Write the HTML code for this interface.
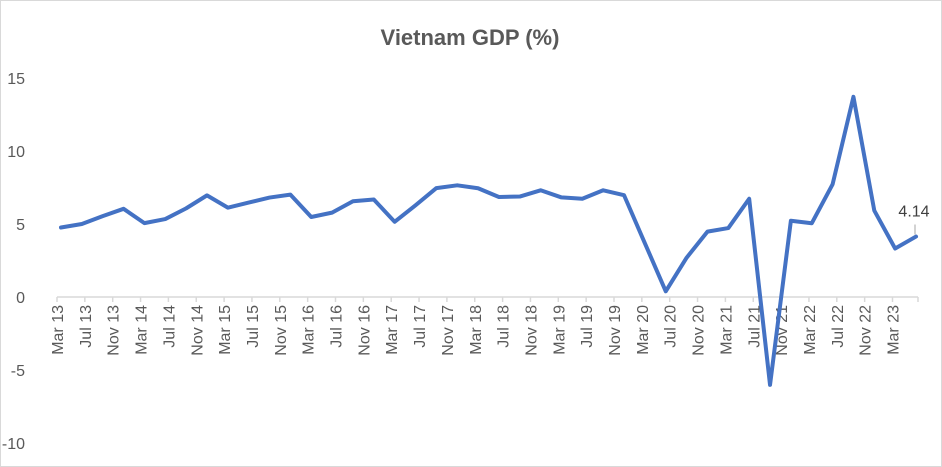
<!DOCTYPE html>
<html><head><meta charset="utf-8"><style>
body{margin:0;background:#fff}
svg{display:block;font-family:"Liberation Sans",sans-serif}
</style></head><body>
<svg id="chart" width="942" height="467">
<rect x="0.5" y="0.5" width="941" height="466" fill="#fff" stroke="#d9d9d9"/>
<text x="470" y="45" text-anchor="middle" font-size="22" font-weight="bold" fill="#595959">Vietnam GDP (%)</text>
<g id="yaxis"></g>
<g id="xaxis"></g>
<g id="series"></g>
</svg>
<script>
const gdpValues=[4.76,5.00,5.54,6.04,5.06,5.34,6.07,6.96,6.12,6.47,6.81,7.01,5.48,5.78,6.56,6.68,5.15,6.28,7.46,7.65,7.45,6.85,6.88,7.31,6.82,6.73,7.31,6.97,3.68,0.39,2.69,4.48,4.72,6.73,-6.02,5.22,5.05,7.72,13.71,5.92,3.32,4.14];
const yTicks=[15,10,5,0,-5,-10];
const xLabels=[];
const mons=["Mar","Jul","Nov"];
for(let yr=13;yr<=23;yr++){for(const m of mons){if(yr===23&&m!=="Mar")break;xLabels.push(m+" "+yr);}}
const NS="http://www.w3.org/2000/svg";
const y=v=>297-v*14.6;
const xp=i=>61+i*(916-61)/(gdpValues.length-1);
const xt=i=>57+i*27.85;
const ya=document.getElementById('yaxis'),xa=document.getElementById('xaxis'),sg=document.getElementById('series');
yTicks.forEach(t=>{const e=document.createElementNS(NS,'text');


e.setAttribute('x',25);e.setAttribute('y',y(t)+6);e.setAttribute('text-anchor','end');e.setAttribute('font-size','16');e.setAttribute('fill','#595959');e.textContent=t;ya.appendChild(e);});
const ax=document.createElementNS(NS,'line');


ax.setAttribute('x1',57);ax.setAttribute('x2',918);ax.setAttribute('y1',297);ax.setAttribute('y2',297);ax.setAttribute('stroke','#d9d9d9');ax.setAttribute('stroke-width','1.5');xa.appendChild(ax);
for(let i=0;i<=xLabels.length;i++){const tx=i<xLabels.length?xt(i):918;const tk=document.createElementNS(NS,'line');


tk.setAttribute('x1',tx);tk.setAttribute('x2',tx);tk.setAttribute('y1',297);tk.setAttribute('y2',302);tk.setAttribute('stroke','#d9d9d9');tk.setAttribute('stroke-width','1.5');xa.appendChild(tk);}
xLabels.forEach((l,i)=>{const e=document.createElementNS(NS,'text');


const cx=xt(i)+6;e.setAttribute('transform','translate('+cx+',305) rotate(-90)');e.setAttribute('text-anchor','end');e.setAttribute('font-size','16');e.setAttribute('fill','#595959');e.textContent=l;xa.appendChild(e);});
const pl=document.createElementNS(NS,'polyline');


pl.setAttribute('points',gdpValues.map((v,i)=>xp(i)+','+y(v)).join(' '));pl.setAttribute('fill','none');pl.setAttribute('stroke','#4472c4');pl.setAttribute('stroke-width','4');pl.setAttribute('stroke-linejoin','round');pl.setAttribute('stroke-linecap','round');sg.appendChild(pl);
const li=gdpValues.length-1;
const ld=document.createElementNS(NS,'line');


ld.setAttribute('x1',xp(li)-1);ld.setAttribute('x2',xp(li)-1);ld.setAttribute('y1',y(gdpValues[li])-2);ld.setAttribute('y2',y(gdpValues[li])-12);ld.setAttribute('stroke','#a6a6a6');sg.appendChild(ld);
const dl=document.createElementNS(NS,'text');


dl.setAttribute('x',xp(li)-2);dl.setAttribute('y',y(gdpValues[li])-20);dl.setAttribute('text-anchor','middle');dl.setAttribute('font-size','16');dl.setAttribute('fill','#404040');dl.textContent=gdpValues[li].toFixed(2);sg.appendChild(dl);
</script>
</body></html>
